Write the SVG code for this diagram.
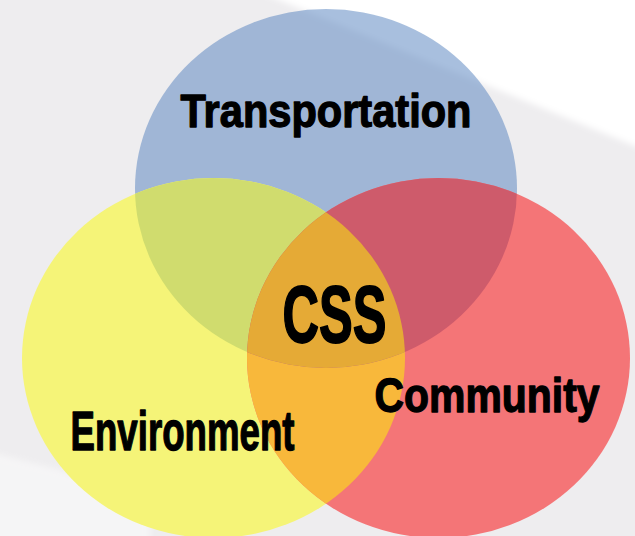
<svg xmlns="http://www.w3.org/2000/svg" width="635" height="536" viewBox="0 0 635 536">
  <style>
    .lbl { font-family: "Liberation Sans Narrow", "Liberation Sans", Arial, sans-serif; font-weight: bold; fill: #000; stroke: #000; stroke-width: 1.3; stroke-linejoin: round; }
  </style>
  <defs>
    <clipPath id="clipY"><ellipse cx="213.5" cy="358" rx="191.5" ry="180"/></clipPath>
    <clipPath id="clipR"><ellipse cx="438.5" cy="358" rx="191.5" ry="180"/></clipPath>
    <filter id="soft" x="-20%" y="-20%" width="140%" height="140%"><feGaussianBlur stdDeviation="3"/></filter>
  </defs>

  <g id="background">
    <rect x="0" y="0" width="635" height="536" fill="#eeedef"/>
    <polygon points="255,-10 650,-10 650,150 635,146" fill="#ffffff" filter="url(#soft)"/>
    <polygon points="-10,452 60,470 150,505 150,545 -10,545" fill="#ffffff" opacity="0.45" filter="url(#soft)"/>
  </g>

  <g id="transportation">
    <ellipse cx="326" cy="188.5" rx="191" ry="179.5" fill="#527fbd" fill-opacity="0.5"/>
  </g>
  <g id="environment">
    <ellipse cx="213.5" cy="358" rx="191.5" ry="180" fill="#f5f478"/>
  </g>
  <g id="community">
    <ellipse cx="438.5" cy="358" rx="191.5" ry="180" fill="#f47577"/>
  </g>

  <g id="overlaps">
    <ellipse cx="438.5" cy="358" rx="191.5" ry="180" fill="#f8b83b" clip-path="url(#clipY)"/>
    <ellipse cx="326" cy="188.5" rx="191" ry="179.5" fill="#d0dc6e" clip-path="url(#clipY)"/>
    <ellipse cx="326" cy="188.5" rx="191" ry="179.5" fill="#ce5b6b" clip-path="url(#clipR)"/>
    <g clip-path="url(#clipR)">
      <ellipse cx="326" cy="188.5" rx="191" ry="179.5" fill="#e5aa36" clip-path="url(#clipY)"/>
    </g>
  </g>

  <g id="labels">
    <text class="lbl" x="180.5" y="126.5" font-size="46" textLength="291" lengthAdjust="spacingAndGlyphs">Transportation</text>
    <text class="lbl" x="70.5" y="449.5" font-size="55" textLength="224" lengthAdjust="spacingAndGlyphs">Environment</text>
    <text class="lbl" x="374.5" y="411.5" font-size="48.5" textLength="225" lengthAdjust="spacingAndGlyphs">Community</text>
  </g>
  <g id="css">
    <text class="lbl" x="282.5" y="342" font-size="80" textLength="104" lengthAdjust="spacingAndGlyphs" style="stroke-width:1.8">CSS</text>
  </g>
</svg>
